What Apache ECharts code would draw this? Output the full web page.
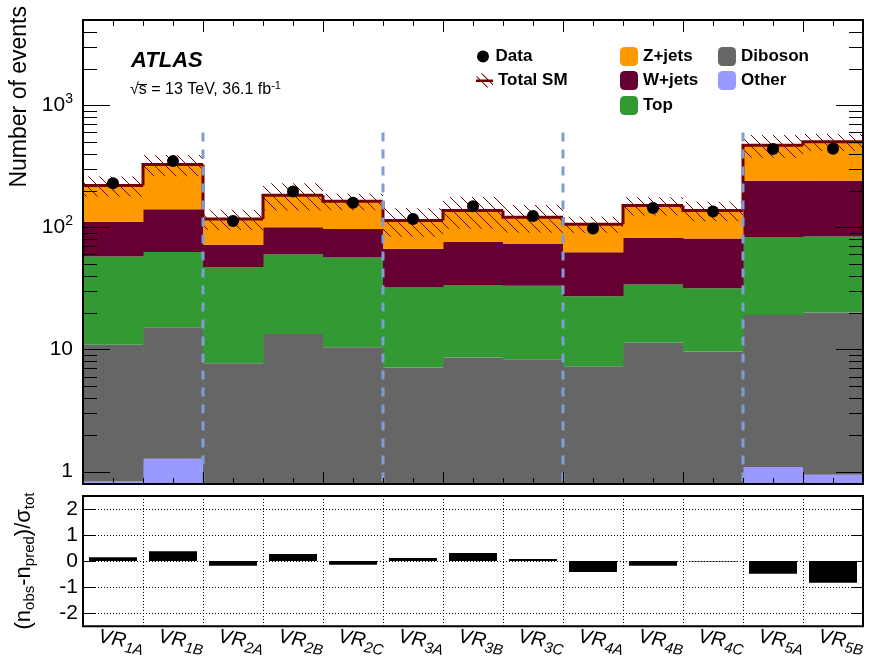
<!DOCTYPE html>
<html><head><meta charset="utf-8">
<script src="https://cdn.jsdelivr.net/npm/echarts@6/dist/echarts.min.js"></script>
<style>html,body{margin:0;padding:0;background:#fff}#c{width:875px;height:659px}</style>
</head><body><div id="c"></div><script>
// ---------------- data ----------------
const categories = ['VR1A','VR1B','VR2A','VR2B','VR2C','VR3A','VR3B','VR3C','VR4A','VR4B','VR4C','VR5A','VR5B'];
const other    = [0.83, 1.27, 0.8, 0.8, 0.8, 0.8, 0.8, 0.8, 0.8, 0.8, 0.8, 1.09, 0.94];
const diboson  = [10.1, 13.9, 6.9, 12.6, 9.6, 6.3, 7.8, 7.5, 6.5, 10.6, 8.8, 18.1, 19.1];
const topQuark = [46.7, 47.8, 39.7, 46.9, 46.2, 25.0, 25.2, 24.9, 20.0, 22.6, 22.1, 64.4, 64.1];
const wjets    = [53.4, 78, 24.5, 40.1, 40.6, 34.6, 42.2, 40.0, 35.3, 48.0, 49.2, 156.9, 156.4];
const zjets    = [109, 186, 45.5, 83.2, 66.2, 47.0, 61.3, 48.0, 43.6, 68.9, 56.4, 231.3, 261.5];
const dataObs  = [230, 349, 113, 197, 159, 117, 149, 124, 98, 144, 135, 438, 440];
const totalErr = [41, 65, 22, 46, 25, 30, 40, 31, 16, 26, 25, 99, 80];
const pull     = [0.15, 0.38, -0.18, 0.27, -0.14, 0.12, 0.31, 0.08, -0.42, -0.18, -0.02, -0.49, -0.83];
const yTickLabels = [1, 10, 100, 1000];
const pullTickLabels = [-2, -1, 0, 1, 2];
const dividerBefore = ['VR2A','VR3A','VR4A','VR5A'];

// ---------------- styling ----------------
const FONT = 'Liberation Sans, Arial, Helvetica, sans-serif';
const comps = [
  {name:'Other',   vals: other,    color:'#9999ff'},
  {name:'Diboson', vals: diboson,  color:'#666666'},
  {name:'Top',     vals: topQuark, color:'#339933'},
  {name:'W+jets',  vals: wjets,    color:'#660033'},
  {name:'Z+jets',  vals: zjets,    color:'#ff9900'}
];
const Y_MIN = 0.79, Y_MAX = 5000;

// hatch pattern for the uncertainty band
const hatch = document.createElement('canvas');
hatch.width = 11; hatch.height = 11;
(function(){
  const g = hatch.getContext('2d');
  g.strokeStyle = '#7a0000'; g.lineWidth = 1;
  g.beginPath();
  g.moveTo(0,0); g.lineTo(11,11);
  g.moveTo(-2,9); g.lineTo(2,13);
  g.moveTo(9,-2); g.lineTo(13,2);
  g.stroke();
})();

function binWidth(cs){ return cs.width / categories.length; }

function makeStackRender(color){
  return function(params, api){
    const i = params.dataIndex, cs = params.coordSys, bw = binWidth(cs);
    const hi = api.value(1), lo = api.value(2);
    const bottom = cs.y + cs.height;
    const xc = api.coord([i, hi])[0];
    let yHi = Math.max(cs.y, Math.min(api.coord([i, hi])[1], bottom));
    let yLo = lo > 0 ? Math.min(api.coord([i, lo])[1], bottom) : bottom;
    if (yLo - yHi < 0.05) return null;
    return {type:'rect', shape:{x: xc - bw/2, y: yHi, width: bw + 0.5, height: yLo - yHi}, style:{fill: color}};
  };
}

let cum = categories.map(() => 0);
const stackSeries = comps.map(c => {
  const data = categories.map((_, i) => [i, cum[i] + c.vals[i], cum[i]]);
  cum = cum.map((v, i) => v + c.vals[i]);
  return {type:'custom', name:c.name, xAxisIndex:0, yAxisIndex:0, data,
          itemStyle:{color:c.color}, renderItem: makeStackRender(c.color), z:2, silent:true};
});
const totals = cum.slice();

const bandSeries = {
  type:'custom', name:'Total SM', xAxisIndex:0, yAxisIndex:0, z:3, silent:true,
  itemStyle:{color:'#730000'},
  data: categories.map((_, i) => [i, totals[i], totalErr[i]]),
  renderItem(params, api){
    const i = params.dataIndex, cs = params.coordSys, bw = binWidth(cs);
    const tot = api.value(1), err = api.value(2);
    const xc = api.coord([i, tot])[0];
    const yUp = api.coord([i, tot + err])[1];
    const yDn = api.coord([i, tot - err])[1];
    return {type:'rect', shape:{x: xc - bw/2, y: yUp, width: bw, height: yDn - yUp},
            style:{fill:{image: hatch, repeat:'repeat'}}};
  }
};
const lineSeries = {
  type:'custom', name:'totalLine', xAxisIndex:0, yAxisIndex:0, z:4, silent:true,
  data: categories.map((_, i) => [i, totals[i]]),
  renderItem(params, api){
    const i = params.dataIndex, cs = params.coordSys, bw = binWidth(cs);
    const [xc, yT] = api.coord([i, api.value(1)]);
    const xL = xc - bw/2, xR = xc + bw/2;
    const pts = [];
    if (i > 0) pts.push([xL, api.coord([i-1, totals[i-1]])[1]]);
    pts.push([xL, yT]); pts.push([xR, yT]);
    return {type:'polyline', shape:{points: pts}, style:{stroke:'#730000', lineWidth:3, fill:null, lineJoin:'miter'}};
  }
};
const dividerSeries = {
  type:'custom', name:'dividers', xAxisIndex:0, yAxisIndex:0, z:5, silent:true,
  data: dividerBefore.map(n => [categories.indexOf(n), 600]),
  renderItem(params, api){
    const cs = params.coordSys, bw = binWidth(cs);
    const [xc, yTop] = api.coord([api.value(0), api.value(1)]);
    const x = Math.round(xc - bw/2);
    return {type:'line', shape:{x1:x, y1:yTop, x2:x, y2:cs.y + cs.height},
            style:{stroke:'#7f9ed8', lineWidth:3, lineDash:[9,8]}};
  }
};
// ROOT-style log ticks on both sides of the upper frame
const yTickVals = [];
yTickLabels.forEach(d => { for (let m = 1; m <= 9; m++) { const v = d*m; if (v >= Y_MIN && v <= Y_MAX) yTickVals.push(v); } });
const yTickSeries = {
  type:'custom', name:'yticks', xAxisIndex:0, yAxisIndex:0, z:20, silent:true,
  data: yTickVals.map(v => [0, v]),
  renderItem(params, api){
    const cs = params.coordSys, v = api.value(1);
    const y = Math.round(api.coord([0, v])[1]) + 0.5;
    const major = yTickLabels.indexOf(v) >= 0;
    const L = major ? 27 : 14;
    return {type:'group', children:[
      {type:'line', shape:{x1:cs.x, y1:y, x2:cs.x + L, y2:y}, style:{stroke:'#000', lineWidth:1}},
      {type:'line', shape:{x1:cs.x + cs.width - L, y1:y, x2:cs.x + cs.width, y2:y}, style:{stroke:'#000', lineWidth:1}}
    ]};
  }
};

function leg(name, left, top, w, h, icon){
  return {data:[{name, icon}], left, top, itemWidth:w, itemHeight:h, padding:0, selectedMode:false,
          textStyle:{fontSize:17, fontWeight:'bold', color:'#000', fontFamily:FONT}};
}
const totalIcon = 'path://M0,6 L17,6 L17,8.5 L0,8.5 Z M0,3 L1.4,3 L12.4,14 L11,14 Z M5,0 L6.4,0 L17,10.6 L17,12 Z';

const xTickAxis = (pos, interval, len) => ({
  type:'value', gridIndex:0, min:0, max:13, interval, position:pos, z:10,
  axisLine:{show:false}, axisLabel:{show:false}, splitLine:{show:false},
  axisTick:{show:true, inside:true, length:len, lineStyle:{color:'#000', width:1}}
});

const option = {
  animation:false,
  backgroundColor:'#fff',
  textStyle:{fontFamily:FONT},
  grid:[
    {left:83, top:20, width:780, height:464, show:true, borderColor:'#000', borderWidth:2, backgroundColor:'transparent', z:30},
    {left:83, top:496, width:780, height:131, show:true, borderColor:'#000', borderWidth:2, backgroundColor:'transparent', z:30}
  ],
  xAxis:[
    {type:'category', gridIndex:0, data:categories, boundaryGap:true, show:false},
    xTickAxis('bottom', 2, 12),
    xTickAxis('bottom', 0.5, 6),
    xTickAxis('top', 2, 12),
    xTickAxis('top', 0.5, 6),
    {type:'category', gridIndex:1, data:categories, boundaryGap:true,
     axisLine:{show:false}, axisTick:{show:false},
     splitLine:{show:true, interval:0, lineStyle:{color:'#000', width:1, type:[1,2]}},
     axisLabel:{interval:0, rotate:-10, align:'center', verticalAlign:'middle', margin:15, color:'#000',
       formatter: v => '{sp| }{vr|VR}{sb|' + v.slice(2) + '}',
       rich:{
         sp:{width:16, lineHeight:24},
         vr:{fontSize:20, fontStyle:'italic', fontFamily:FONT, color:'#000', lineHeight:21, verticalAlign:'top'},
         sb:{fontSize:15, fontStyle:'italic', fontFamily:FONT, color:'#000', lineHeight:14, verticalAlign:'bottom'}
       }}
    }
  ],
  yAxis:[
    {type:'log', logBase:10, gridIndex:0, min:Y_MIN, max:Y_MAX,
     axisLine:{show:false}, axisTick:{show:false}, splitLine:{show:false}, minorTick:{show:false},
     axisLabel:{margin:10, color:'#000', showMinLabel:true, showMaxLabel:true,
       formatter: v => {
         const e = Math.log10(v), r = Math.round(e);
         if (Math.abs(e - r) > 1e-6) return '';
         if (yTickLabels.indexOf(Math.pow(10, r)) < 0) return '';
         if (r === 0) return '{b|1}';
         if (r === 1) return '{b|10}';
         return '{b|10}{s|' + r + '}';
       },
       rich:{
         b:{fontSize:21, fontFamily:FONT, color:'#000', lineHeight:26},
         s:{fontSize:14, fontFamily:FONT, color:'#000', lineHeight:12, verticalAlign:'top'}
       }}
    },
    {type:'value', gridIndex:1, min:-2.5, max:2.5, splitNumber:5,
     axisLine:{show:false},
     axisTick:{show:true, inside:true, length:12, lineStyle:{color:'#000'}},
     splitLine:{show:true, lineStyle:{color:'#000', width:1, type:[1,2]}},
     axisLabel:{margin:5, color:'#000', fontSize:21, fontFamily:FONT,
       formatter: v => (pullTickLabels.indexOf(v) >= 0 ? String(v) : '')}
    },
    {type:'value', gridIndex:1, min:-2.5, max:2.5, splitNumber:5, position:'right',
     axisLine:{show:false}, axisLabel:{show:false}, splitLine:{show:false},
     axisTick:{show:true, inside:true, length:12, lineStyle:{color:'#000'}}
    }
  ],
  legend:[
    leg('Data', 477, 48, 15, 12, 'circle'),
    leg('Total SM', 476, 72, 17, 14, totalIcon),
    leg('Z+jets', 620, 47, 18, 19, 'roundRect'),
    leg('W+jets', 620, 71, 18, 19, 'roundRect'),
    leg('Top', 620, 96, 18, 19, 'roundRect'),
    leg('Diboson', 718, 47, 18, 19, 'roundRect'),
    leg('Other', 718, 71, 18, 19, 'roundRect')
  ],
  graphic:[
    {type:'text', x:131, y:61, z:50, style:{text:'ATLAS', fontSize:22, fontWeight:'bold', fontStyle:'italic', fontFamily:FONT, fill:'#000', align:'left', verticalAlign:'middle'}},
    {type:'text', x:130, y:90, z:50, style:{text:'√s = 13 TeV, 36.1 fb{sup|-1}', fontSize:16, fontFamily:FONT, fill:'#000', align:'left', verticalAlign:'middle', lineHeight:20,
      rich:{sup:{fontSize:11, fontFamily:FONT, fill:'#000', lineHeight:10, verticalAlign:'top'}}}},
    {type:'line', z:50, shape:{x1:138, y1:84.5, x2:147, y2:84.5}, style:{stroke:'#000', lineWidth:1}},
    {type:'text', x:20, y:6, rotation:Math.PI/2, z:50, style:{text:'Number of events', fontSize:23, fontFamily:FONT, fill:'#000', align:'right', verticalAlign:'middle'}},
    {type:'text', x:24, y:561, rotation:Math.PI/2, z:50, style:{text:'(n{s|obs}-n{s|pred})/σ{s|tot}', fontSize:22, fontFamily:FONT, fill:'#000', align:'center', verticalAlign:'middle', lineHeight:26,
      rich:{s:{fontSize:15, fontFamily:FONT, fill:'#000', lineHeight:15, verticalAlign:'bottom'}}}}
  ],
  series:[
    ...stackSeries,
    bandSeries,
    lineSeries,
    dividerSeries,
    yTickSeries,
    {type:'scatter', name:'Data', xAxisIndex:0, yAxisIndex:0, data:dataObs, symbol:'circle', symbolSize:12,
     itemStyle:{color:'#000', opacity:1, borderWidth:0}, z:10, silent:true},
    {type:'bar', name:'pull', xAxisIndex:5, yAxisIndex:1, data:pull, barWidth:'80%', itemStyle:{color:'#000', opacity:1}, silent:true, z:5}
  ]
};
const chart = echarts.init(document.getElementById('c'), null, {renderer:'canvas', width:875, height:659});
chart.setOption(option);
</script></body></html>
